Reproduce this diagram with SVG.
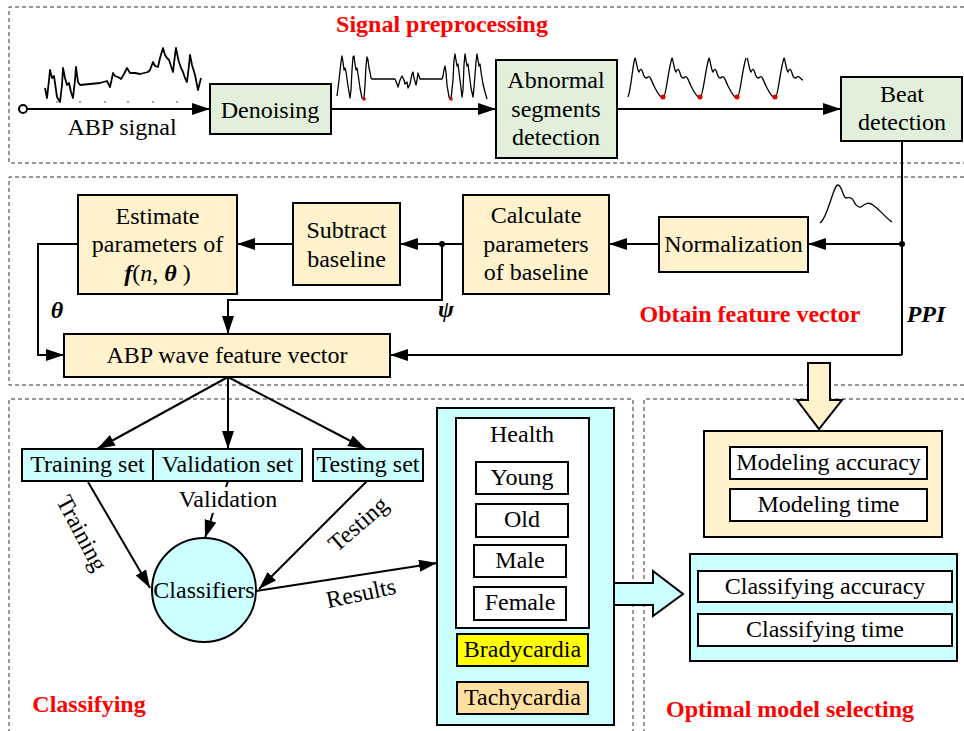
<svg xmlns="http://www.w3.org/2000/svg" width="964" height="731" viewBox="0 0 964 731">
<style>
text{font-family:"Liberation Serif","Times New Roman",serif;font-size:24px;fill:#000;text-anchor:middle}
.title{font-weight:bold;fill:#FF0000}
.bi{font-weight:bold;font-style:italic}
.it{font-style:italic}
.box{stroke:#000;stroke-width:2}
.green{fill:#E2EFDA}
.cream{fill:#FFF2CC}
.cyan{fill:#CCFFFF}
.white{fill:#FFFFFF}
.dash{fill:none;stroke:#333;stroke-width:1;stroke-dasharray:4,3}
.ln{fill:none;stroke:#000;stroke-width:2}
.arr{fill:none;stroke:#000;stroke-width:2;marker-end:url(#ah)}
.wave{fill:none;stroke:#000;stroke-width:1.3;stroke-linejoin:round}
.dot{fill:#E00000}
</style>
<defs>
<marker id="ah" markerUnits="userSpaceOnUse" markerWidth="20" markerHeight="14" refX="18" refY="6" orient="auto">
<path d="M0,0 L18,6 L0,12 z" fill="#000"/>
</marker>
<path id="bcyc" d="M0,58 C1,58 2,70 4,72 C5,70 6,67 8,73 C9,78 11,79 13,77 C15,75 17,82 19,86 C22,92 25,98 28,98 C31,98 33,70 37,58"/>
</defs>
<rect width="964" height="731" fill="#FFFFFF"/>

<g id="sections">
<path class="dash" d="M964,7 H9 V163 H964"/>
<path class="dash" d="M964,177 H9 V385 H964"/>
<path class="dash" d="M633,740 V399 H9 V740"/>
<path class="dash" d="M644,740 V399 H964"/>
<text class="title" x="442" y="32">Signal preprocessing</text>
<text class="title" x="750" y="322">Obtain feature vector</text>
<text class="title" x="89" y="712">Classifying</text>
<text class="title" x="790" y="717">Optimal model selecting</text>
</g>

<g id="waveforms">
<polyline class="wave" style="stroke-width:1.8" points="45,88 47,98 49,80 50,70 52,78 54,76 56,90 57,97 60,102 62,85 63,68 65,78 67,85 69,83 71,92 73,98 75,80 76,67 78,82 80,85 90,84 100,83 107,81 109,85 110,87 112,78 113,73 115,76 118,77 121,79 124,74 127,68 130,73 135,73 140,74 148,72 150,70 153,62 155,66 158,67 160,58 163,48 165,55 167,58 169,60 171,66 173,72 175,55 176,48 178,58 179,62 181,68 183,72 185,78 187,82 189,65 190,55 192,65 195,75 197,85 198,90 200,82 201,78"/>
<g fill="#000"><circle cx="57" cy="102" r="0.7"/><circle cx="80" cy="102" r="0.7"/><circle cx="105" cy="102" r="0.7"/><circle cx="128" cy="102" r="0.7"/><circle cx="153" cy="102" r="0.7"/><circle cx="177" cy="102" r="0.7"/></g>
<polyline class="wave" points="337,96 339,80 341,62 342,56 343,62 344,70 345,68 346,72 348,86 350,98 351,90 352,70 353,57 354,56 355,64 356,70 357,68 358,74 360,88 362,98 364,99 365,85 366,66 367,57 368,60 369,68 370,72 371,78 372,79 395,79 397,84 398,87 400,80 402,76 404,80 405,84 407,82 408,88 410,84 412,74 413,72 414,78 416,85 417,80 418,73 419,76 420,79 442,79 443,76 444,70 445,66 446,72 447,85 449,97 451,99 453,80 454,60 455,54 456,60 457,66 458,64 459,72 461,88 462,97 463,90 464,65 465,54 466,60 467,66 468,64 469,72 471,88 473,97 474,88 476,62 477,54 478,60 479,66 480,64 481,72 483,84 485,92 487,99"/>
<circle class="dot" cx="364" cy="99" r="1.8"/>
<circle class="dot" cx="451" cy="99" r="1.8"/>
<path class="wave" d="M628,97 C631,90 633,62 635,58"/>
<use href="#bcyc" x="635" class="wave"/>
<use href="#bcyc" x="672" class="wave"/>
<use href="#bcyc" x="709" class="wave"/>
<use href="#bcyc" x="747" class="wave"/>
<path class="wave" d="M784,58 C785,58 786,70 788,72 C789,70 790,67 792,73 C793,78 795,79 797,77 C799,75 801,80 803,80"/>
<circle class="dot" cx="663" cy="97" r="2.5"/>
<circle class="dot" cx="700" cy="97" r="2.5"/>
<circle class="dot" cx="737" cy="97" r="2.5"/>
<circle class="dot" cx="775" cy="97" r="2.5"/>
<path class="wave" d="M820,223 C828,218 833,185 838,185 C842,185 843,198 846,198 C849,198 851,196 853,200 C856,206 858,208 861,207 C866,203 869,202 873,205 C880,210 886,218 892,222"/>
</g>

<g id="connectors">
<circle cx="23" cy="109" r="4" fill="#fff" stroke="#000" stroke-width="2"/>
<line class="arr" x1="27" y1="109" x2="210" y2="109"/>
<line class="arr" x1="331" y1="109" x2="496" y2="109"/>
<line class="arr" x1="617" y1="109" x2="841" y2="109"/>
<line class="ln" x1="902" y1="141" x2="902" y2="355"/>
<line class="arr" x1="902" y1="244" x2="808" y2="244"/>
<circle cx="902" cy="244" r="3"/>
<polyline class="arr" points="902,355 390,355"/>
<line class="arr" x1="659" y1="244" x2="609" y2="244"/>
<line class="arr" x1="463" y1="244" x2="400" y2="244"/>
<circle cx="442" cy="244" r="3"/>
<polyline class="arr" points="442,244 442,300 228,300 228,334"/>
<line class="arr" x1="293" y1="244" x2="237" y2="244"/>
<polyline class="arr" points="78,244 38,244 38,355 64,355"/>
<line class="arr" x1="228" y1="377" x2="97" y2="449"/>
<line class="arr" x1="228" y1="377" x2="228" y2="449"/>
<line class="arr" x1="228" y1="377" x2="366" y2="449"/>
<line class="arr" x1="88" y1="482" x2="150" y2="588"/>
<line class="ln" x1="228" y1="481" x2="226" y2="487"/>
<line class="arr" x1="213" y1="513" x2="205" y2="538"/>
<line class="arr" x1="367" y1="481" x2="259" y2="589"/>
<line class="arr" x1="256" y1="591" x2="437" y2="563"/>
<text x="57" y="318" class="bi">θ</text>
<text x="446" y="317" class="bi">ψ</text>
<text x="926" y="322" class="bi">PPI</text>
<text x="122" y="135">ABP signal</text>
<text x="228" y="507">Validation</text>
<text transform="translate(82,533) rotate(62)" dy="8">Training</text>
<text transform="translate(358,524) rotate(-41)" dy="8">Testing</text>
<text transform="translate(361,593) rotate(-12)" dy="8">Results</text>
<polygon points="808,363 830,363 830,400 842,400 819,429 797,400 808,400" fill="#FFF2CC" stroke="#000" stroke-width="2"/>
<polygon points="613,583 653,583 653,571 683,594 653,616 653,605 613,605" fill="#CCFFFF" stroke="#000" stroke-width="2"/>
</g>

<g id="denoising"><rect class="box green" x="210" y="84" width="121" height="50"/><text x="270" y="118">Denoising</text></g>
<g id="abnormal"><rect class="box green" x="496" y="60" width="121" height="98"/><text x="556" y="88">Abnormal</text><text x="556" y="117">segments</text><text x="556" y="145">detection</text></g>
<g id="beat"><rect class="box green" x="841" y="77" width="121" height="64"/><text x="902" y="102">Beat</text><text x="902" y="130">detection</text></g>
<g id="normalization"><rect class="box cream" x="659" y="217" width="149" height="55"/><text x="733.5" y="252">Normalization</text></g>
<g id="calculate"><rect class="box cream" x="463" y="195" width="146" height="99"/><text x="536" y="223">Calculate</text><text x="536" y="252">parameters</text><text x="536" y="280">of baseline</text></g>
<g id="subtract"><rect class="box cream" x="293" y="203" width="107" height="82"/><text x="346.5" y="238">Subtract</text><text x="346.5" y="267">baseline</text></g>
<g id="estimate"><rect class="box cream" x="78" y="195" width="159" height="99"/><text x="157.5" y="224">Estimate</text><text x="157.5" y="252">parameters of</text><text x="157.5" y="281"><tspan class="bi">f</tspan>(<tspan class="it">n</tspan>, <tspan class="bi">θ</tspan> )</text></g>
<g id="abpvector"><rect class="box cream" x="64" y="334" width="326" height="43"/><text x="227" y="363">ABP wave feature vector</text></g>

<g id="trainingset"><rect class="box cyan" x="22" y="449" width="131" height="32"/><text x="87.5" y="472">Training set</text></g>
<g id="validationset"><rect class="box cyan" x="153" y="449" width="149" height="32"/><text x="227.5" y="472">Validation set</text></g>
<g id="testingset"><rect class="box cyan" x="313" y="449" width="110" height="32"/><text x="368" y="472">Testing set</text></g>
<g id="classifiers"><circle class="box cyan" cx="204" cy="590" r="52"/><text x="204" y="598">Classifiers</text></g>

<g id="results">
<rect class="box cyan" x="437" y="408" width="177" height="317"/>
<rect class="box white" x="456" y="418" width="133" height="210"/>
<text x="522" y="442">Health</text>
<rect class="box white" x="476" y="462" width="92" height="32"/><text x="522" y="485">Young</text>
<rect class="box white" x="476" y="504" width="92" height="33"/><text x="522" y="527">Old</text>
<rect class="box white" x="474" y="545" width="92" height="32"/><text x="520" y="568">Male</text>
<rect class="box white" x="474" y="587" width="92" height="33"/><text x="520" y="610">Female</text>
<rect class="box" fill="#FFFF00" x="457" y="634" width="131" height="32"/><text x="522.5" y="657">Bradycardia</text>
<rect class="box" fill="#FFE0A0" x="457" y="682" width="131" height="32"/><text x="522.5" y="705">Tachycardia</text>
</g>

<g id="modeling">
<rect class="box cream" x="704" y="431" width="238" height="106"/>
<rect class="box white" x="730" y="447" width="197" height="32"/><text x="828.5" y="470">Modeling accuracy</text>
<rect class="box white" x="730" y="489" width="197" height="32"/><text x="828.5" y="512">Modeling time</text>
</g>
<g id="classifying">
<rect class="box cyan" x="690" y="554" width="267" height="107"/>
<rect class="box white" x="698" y="571" width="254" height="31"/><text x="825" y="594">Classifying accuracy</text>
<rect class="box white" x="698" y="614" width="254" height="32"/><text x="825" y="637">Classifying time</text>
</g>
</svg>
